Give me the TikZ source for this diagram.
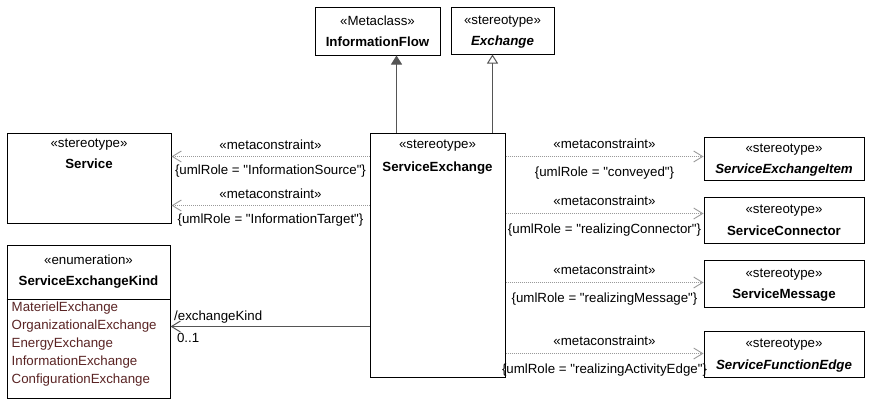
\documentclass[tikz,border=0pt]{standalone}
\usepackage{fontspec}
\setmainfont{Liberation Sans}[Ligatures=TeXOff]
\usetikzlibrary{arrows.meta,positioning}
\definecolor{UmlLine}{HTML}{555555}
\definecolor{UmlDots}{HTML}{9A9A9A}
\definecolor{UmlLiteral}{HTML}{5A2424}
\tikzset{
  umlbox/.style={draw=black,line width=1pt,fill=white,align=center,font=\fontsize{13.3}{21.5}\selectfont,inner sep=2pt,text depth=0pt},
  headtitle/.style={align=center,font=\fontsize{13.3}{21}\selectfont,inner sep=0pt},
  literals/.style={align=left,font=\fontsize{13.3}{18}\selectfont,text=UmlLiteral,inner sep=0pt},
  rolelabel/.style={font=\fontsize{13.3}{16}\selectfont,text=black,inner sep=2.5pt},
  extendarrow/.style={-{Triangle[length=9pt,width=11pt]},line width=1pt,draw=UmlLine,fill=UmlLine},
  generalarrow/.style={-{Triangle[open,length=9pt,width=11pt]},line width=1pt,draw=UmlLine},
  metaarrow/.style={-{Straight Barb[length=9pt,width=11pt]},line width=0.9pt,draw=UmlDots,dash pattern=on 1pt off 1pt},
  assocarrow/.style={-{Straight Barb[length=9pt,width=11pt]},line width=1pt,draw=UmlLine}
}
\begin{document}
\begin{tikzpicture}[x=1pt,y=-1pt]
  \useasboundingbox (0,0) rectangle (874,402);
  % metaclass and stereotype on top
  \node[umlbox,minimum width=125,minimum height=48] (infoflow) at (377.5,31) {«Metaclass»\\\textbf{InformationFlow}};
  \node[umlbox,minimum width=103,minimum height=47] (exchange) at (502.5,30.5) {«stereotype»\\\textbf{\textit{Exchange}}};

  % the stereotype being defined
  \node[umlbox,minimum width=135,minimum height=244] (serviceexchange) at (437.5,255) {};
  \node[headtitle,below=7.5pt of serviceexchange.north,font=\fontsize{13.3}{22.5}\selectfont] {«stereotype»\\\textbf{ServiceExchange}};

  % left side
  \node[umlbox,minimum width=164,minimum height=90] (service) at (89,178) {};
  \node[headtitle,below=6pt of service.north] {«stereotype»\\\textbf{Service}};
  \node[umlbox,minimum width=163,minimum height=153] (kind) at (88.5,321.5) {};
  \node[headtitle,below=10.5pt of kind.north] {«enumeration»\\\textbf{ServiceExchangeKind}};
  \draw[line width=1pt] ([yshift=-55pt]kind.north west) -- ([yshift=-55pt]kind.north east);
  \node[literals,anchor=north west] (kindlits) at ([xshift=5pt,yshift=-57pt]kind.north west)
    {MaterielExchange\\OrganizationalExchange\\EnergyExchange\\InformationExchange\\ConfigurationExchange};

  % right side
  \node[umlbox,minimum width=160,minimum height=43] (item) at (784,158.5) {«stereotype»\\\textbf{\textit{ServiceExchangeItem}}};
  \node[umlbox,minimum width=160,minimum height=46] (connector) at (784,220) {«stereotype»\\\textbf{ServiceConnector}};
  \node[umlbox,minimum width=160,minimum height=47] (message) at (784,283.5) {«stereotype»\\\textbf{ServiceMessage}};
  \node[umlbox,minimum width=160,minimum height=46] (functionedge) at (784,354) {«stereotype»\\\textbf{\textit{ServiceFunctionEdge}}};

  \draw[extendarrow] ([xshift=27pt]serviceexchange.north west)
    -- ([xshift=27pt]serviceexchange.north west |- infoflow.south);
  \draw[generalarrow] ([xshift=-13pt]serviceexchange.north east)
    -- ([xshift=-13pt]serviceexchange.north east |- exchange.south);

  \draw[metaarrow] ([yshift=-24pt]serviceexchange.north west)
    -- ([yshift=-24pt]serviceexchange.north west -| service.east)
    node[rolelabel,midway,above=3.5pt] {«metaconstraint»}
    node[rolelabel,midway,below=5.5pt] {\{umlRole = "InformationSource"\}};
  \draw[metaarrow] ([yshift=-73pt]serviceexchange.north west)
    -- ([yshift=-73pt]serviceexchange.north west -| service.east)
    node[rolelabel,midway,above=3.5pt] {«metaconstraint»}
    node[rolelabel,midway,below=5.5pt] {\{umlRole = "InformationTarget"\}};

  \draw[metaarrow] ([yshift=-24pt]serviceexchange.north east)
    -- ([yshift=-24pt]serviceexchange.north east -| item.west)
    node[rolelabel,midway,above=4.5pt] {«metaconstraint»}
    node[rolelabel,midway,below=7.5pt] {\{umlRole = "conveyed"\}};
  \draw[metaarrow] ([yshift=-81pt]serviceexchange.north east)
    -- ([yshift=-81pt]serviceexchange.north east -| connector.west)
    node[rolelabel,midway,above=4.5pt] {«metaconstraint»}
    node[rolelabel,midway,below=7.5pt] {\{umlRole = "realizingConnector"\}};
  \draw[metaarrow] ([yshift=-150pt]serviceexchange.north east)
    -- ([yshift=-150pt]serviceexchange.north east -| message.west)
    node[rolelabel,midway,above=4.5pt] {«metaconstraint»}
    node[rolelabel,midway,below=7.5pt] {\{umlRole = "realizingMessage"\}};
  \draw[metaarrow] ([yshift=-221pt]serviceexchange.north east)
    -- ([yshift=-221pt]serviceexchange.north east -| functionedge.west)
    node[rolelabel,midway,above=4.5pt] {«metaconstraint»}
    node[rolelabel,midway,below=7.5pt] {\{umlRole = "realizingActivityEdge"\}};

  \draw[assocarrow] ([yshift=-194pt]serviceexchange.north west)
    -- ([yshift=-194pt]serviceexchange.north west -| kind.east)
    node[rolelabel,pos=1,above right=1pt] {/exchangeKind}
    node[rolelabel,pos=1,below right=5pt] {0..1};
\end{tikzpicture}
\end{document}
